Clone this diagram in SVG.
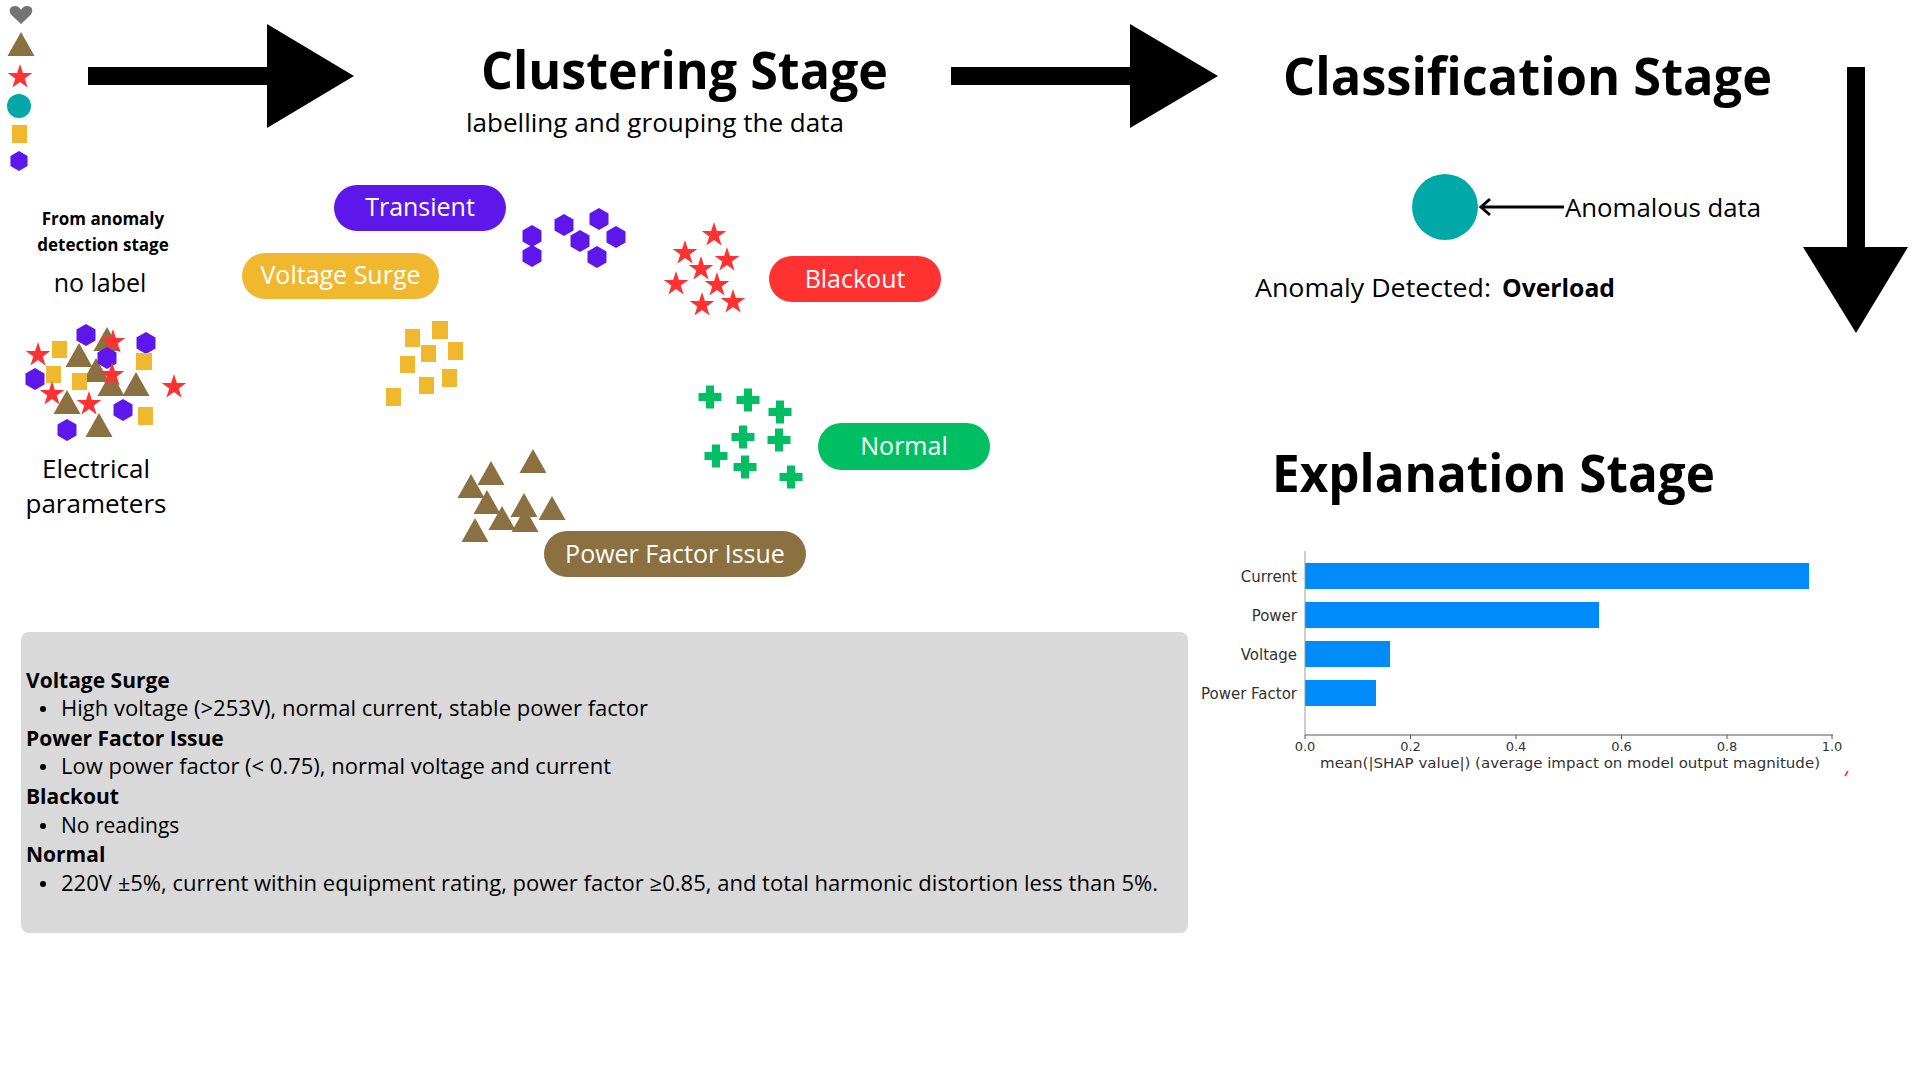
<svg xmlns="http://www.w3.org/2000/svg" xmlns:xlink="http://www.w3.org/1999/xlink" width="1920" height="1080" viewBox="0 0 1920 1080">
<style>
.h{font-family:"Open Sans","Liberation Sans",sans-serif;font-weight:700;fill:#000}
.t{font-family:"Open Sans","Liberation Sans",sans-serif;fill:#000}
.pl{font-family:"Open Sans","Liberation Sans",sans-serif;fill:#fff;font-size:25px;text-anchor:middle}
.bx{font-family:"Open Sans","Liberation Sans",sans-serif;font-size:21px;fill:#000}
.bb{font-weight:700}
.ch{font-family:"DejaVu Sans",sans-serif;fill:#333}
.hex{fill:#5E17EB}
.sq{fill:#EFB82E}
.tri{fill:#8B7042}
.star{fill:#FF3131}
.plus{fill:#00BF63}
</style>
<defs>
<path id="star" d="M0,-13 L2.92,-4.02 L12.36,-4.02 L4.72,1.53 L7.64,10.52 L0,4.97 L-7.64,10.52 L-4.72,1.53 L-12.36,-4.02 L-2.92,-4.02Z"/>
<path id="hex" d="M0,-11 L9.5,-5.5 L9.5,5.5 L0,11 L-9.5,5.5 L-9.5,-5.5Z"/>
<path id="tri" d="M0,0 L13.5,24 L-13.5,24Z"/>
<path id="plus" d="M-4,-11.5 h8 v7.5 h7.5 v8 h-7.5 v7.5 h-8 v-7.5 h-7.5 v-8 h7.5z"/>
</defs>
<rect width="1920" height="1080" fill="#fff"/>

<g id="legend">
<path d="M21,24 L12,15.5 C7.5,11 10,6 15,6 C18,6 20,8 21,10 C22,8 24,6 27,6 C32,6 34.5,11 30,15.5 Z" fill="#737373"/>
<use href="#tri" class="tri" transform="translate(21,32)"/>
<use href="#star" class="star" transform="translate(20,77)"/>
<circle cx="19" cy="106" r="12" fill="#00A9A8"/>
<rect x="12" y="125" width="15" height="18" class="sq"/>
<use href="#hex" class="hex" transform="translate(19,161) scale(0.9)"/>
</g>

<g id="input-node">
<text class="h" x="103" y="225" font-size="17" text-anchor="middle">From anomaly</text>
<text class="h" x="103" y="251" font-size="17" text-anchor="middle">detection stage</text>
<text class="t" x="100" y="292" font-size="25" text-anchor="middle">no label</text>
<g id="mixed-cluster">
<use href="#tri" class="tri" transform="translate(107,327)"/>
<use href="#hex" class="hex" transform="translate(86,335)"/>
<use href="#hex" class="hex" transform="translate(146,343)"/>
<rect x="52" y="341" width="15" height="17" class="sq"/>
<rect x="136" y="353" width="16" height="17" class="sq"/>
<use href="#tri" class="tri" transform="translate(79,343)"/>
<use href="#star" class="star" transform="translate(113,342)"/>
<use href="#star" class="star" transform="translate(38,355)"/>
<use href="#tri" class="tri" transform="translate(96,358)"/>
<use href="#hex" class="hex" transform="translate(107,358)"/>
<rect x="46" y="366" width="15" height="17" class="sq"/>
<rect x="72" y="373" width="15" height="17" class="sq"/>
<use href="#hex" class="hex" transform="translate(35,379)"/>
<use href="#tri" class="tri" transform="translate(111,372)"/>
<use href="#tri" class="tri" transform="translate(136,372)"/>
<use href="#star" class="star" transform="translate(112,375)"/>
<use href="#star" class="star" transform="translate(174,387)"/>
<use href="#tri" class="tri" transform="translate(67,390)"/>
<use href="#star" class="star" transform="translate(52,394)"/>
<use href="#star" class="star" transform="translate(89,404)"/>
<use href="#hex" class="hex" transform="translate(123,410)"/>
<rect x="138" y="407" width="15" height="18" class="sq"/>
<use href="#tri" class="tri" transform="translate(99,413)"/>
<use href="#hex" class="hex" transform="translate(67,430)"/>
</g>
<text class="t" x="96" y="478" font-size="26" text-anchor="middle">Electrical</text>
<text class="t" x="96" y="513" font-size="26" text-anchor="middle">parameters</text>
</g>

<g id="clustering-stage">
<text class="h" x="481" y="89" font-size="52" textLength="407" lengthAdjust="spacingAndGlyphs">Clustering Stage</text>
<text class="t" x="466" y="132" font-size="25" textLength="378" lengthAdjust="spacingAndGlyphs">labelling and grouping the data</text>
</g>

<g id="transient">
<rect x="334" y="185" width="172" height="46" rx="23" fill="#5E17EB"/>
<text class="pl" x="420" y="216">Transient</text>
<use href="#hex" class="hex" transform="translate(532,236)"/>
<use href="#hex" class="hex" transform="translate(532,256)"/>
<use href="#hex" class="hex" transform="translate(564,225)"/>
<use href="#hex" class="hex" transform="translate(599,219)"/>
<use href="#hex" class="hex" transform="translate(580,241)"/>
<use href="#hex" class="hex" transform="translate(616,237)"/>
<use href="#hex" class="hex" transform="translate(597,257)"/>
</g>

<g id="voltage-surge">
<rect x="242" y="253" width="197" height="46" rx="23" fill="#EFB82E"/>
<text class="pl" x="340.5" y="284">Voltage Surge</text>
<rect x="405" y="329" width="15" height="18" class="sq"/>
<rect x="432" y="321" width="16" height="18" class="sq"/>
<rect x="421" y="345" width="15" height="17" class="sq"/>
<rect x="448" y="342" width="15" height="18" class="sq"/>
<rect x="400" y="356" width="15" height="17" class="sq"/>
<rect x="442" y="369" width="15" height="18" class="sq"/>
<rect x="419" y="377" width="15" height="17" class="sq"/>
<rect x="386" y="388" width="15" height="18" class="sq"/>
</g>

<g id="blackout">
<rect x="769" y="256" width="172" height="46" rx="23" fill="#FF3131"/>
<text class="pl" x="855" y="288">Blackout</text>
<use href="#star" class="star" transform="translate(714,235)"/>
<use href="#star" class="star" transform="translate(685,253)"/>
<use href="#star" class="star" transform="translate(727,260)"/>
<use href="#star" class="star" transform="translate(701,269)"/>
<use href="#star" class="star" transform="translate(676,284)"/>
<use href="#star" class="star" transform="translate(717,285)"/>
<use href="#star" class="star" transform="translate(702,305)"/>
<use href="#star" class="star" transform="translate(733,302)"/>
</g>

<g id="normal">
<rect x="818" y="423" width="172" height="47" rx="23.5" fill="#00BF63"/>
<text class="pl" x="904" y="455">Normal</text>
<use href="#plus" class="plus" transform="translate(710,397)"/>
<use href="#plus" class="plus" transform="translate(748,400)"/>
<use href="#plus" class="plus" transform="translate(780,412)"/>
<use href="#plus" class="plus" transform="translate(743,437)"/>
<use href="#plus" class="plus" transform="translate(779,440)"/>
<use href="#plus" class="plus" transform="translate(716,456)"/>
<use href="#plus" class="plus" transform="translate(745,467)"/>
<use href="#plus" class="plus" transform="translate(791,477)"/>
</g>

<g id="power-factor-issue">
<rect x="544" y="531" width="262" height="46" rx="23" fill="#8B7042"/>
<text class="pl" x="675" y="563">Power Factor Issue</text>
<use href="#tri" class="tri" transform="translate(533,449)"/>
<use href="#tri" class="tri" transform="translate(491,461)"/>
<use href="#tri" class="tri" transform="translate(471,474)"/>
<use href="#tri" class="tri" transform="translate(487,490)"/>
<use href="#tri" class="tri" transform="translate(524,493)"/>
<use href="#tri" class="tri" transform="translate(552,496)"/>
<use href="#tri" class="tri" transform="translate(502,506)"/>
<use href="#tri" class="tri" transform="translate(525,508)"/>
<use href="#tri" class="tri" transform="translate(475,518)"/>
</g>

<g id="descriptions">
<rect x="21" y="632" width="1167" height="301" rx="8" fill="#D9D9D9"/>
<text class="bx bb" x="26" y="688">Voltage Surge</text>
<circle cx="43" cy="709" r="3"/>
<text class="bx" x="61" y="716" textLength="587" lengthAdjust="spacingAndGlyphs">High voltage (&gt;253V), normal current, stable power factor</text>
<text class="bx bb" x="26" y="746">Power Factor Issue</text>
<circle cx="43" cy="767" r="3"/>
<text class="bx" x="61" y="774" textLength="550" lengthAdjust="spacingAndGlyphs">Low power factor (&lt; 0.75), normal voltage and current</text>
<text class="bx bb" x="26" y="804">Blackout</text>
<circle cx="43" cy="826" r="3"/>
<text class="bx" x="61" y="833">No readings</text>
<text class="bx bb" x="26" y="862">Normal</text>
<circle cx="43" cy="884" r="3"/>
<text class="bx" x="61" y="891" textLength="1097" lengthAdjust="spacingAndGlyphs">220V ±5%, current within equipment rating, power factor ≥0.85, and total harmonic distortion less than 5%.</text>
</g>

<g id="classification-stage">
<text class="h" x="1283" y="95" font-size="52" textLength="489" lengthAdjust="spacingAndGlyphs">Classification Stage</text>
<circle cx="1445" cy="207" r="33" fill="#00A9A8"/>
<text class="t" x="1565" y="217" font-size="25" textLength="196" lengthAdjust="spacingAndGlyphs">Anomalous data</text>
<text class="t" x="1255" y="297" font-size="25" textLength="236" lengthAdjust="spacingAndGlyphs">Anomaly Detected:</text>
<text class="h" x="1502" y="297" font-size="25" textLength="113" lengthAdjust="spacingAndGlyphs">Overload</text>
</g>

<g id="explanation-stage">
<text class="h" x="1272" y="492" font-size="52" textLength="443" lengthAdjust="spacingAndGlyphs">Explanation Stage</text>
<g id="shap-chart">
<rect x="1305" y="563" width="504" height="26" fill="#008BFB"/>
<rect x="1305" y="602" width="294" height="26" fill="#008BFB"/>
<rect x="1305" y="641" width="85" height="26" fill="#008BFB"/>
<rect x="1305" y="680" width="71" height="26" fill="#008BFB"/>
<line x1="1305" y1="551" x2="1305" y2="735" stroke="#999" stroke-width="1"/>
<line x1="1305" y1="735" x2="1833" y2="735" stroke="#555" stroke-width="1"/>
<g stroke="#555" stroke-width="1">
<line x1="1305" y1="735" x2="1305" y2="739"/>
<line x1="1410.5" y1="735" x2="1410.5" y2="739"/>
<line x1="1516" y1="735" x2="1516" y2="739"/>
<line x1="1621.5" y1="735" x2="1621.5" y2="739"/>
<line x1="1727" y1="735" x2="1727" y2="739"/>
<line x1="1832" y1="735" x2="1832" y2="739"/>
</g>
<g class="ch" font-size="15" text-anchor="end">
<text x="1297" y="582">Current</text>
<text x="1297" y="621">Power</text>
<text x="1297" y="660">Voltage</text>
<text x="1297" y="699">Power Factor</text>
</g>
<g class="ch" font-size="13" text-anchor="middle">
<text x="1305" y="751">0.0</text>
<text x="1410.5" y="751">0.2</text>
<text x="1516" y="751">0.4</text>
<text x="1621.5" y="751">0.6</text>
<text x="1727" y="751">0.8</text>
<text x="1832" y="751">1.0</text>
</g>
<text class="ch" x="1320" y="768" font-size="14.5" textLength="500" lengthAdjust="spacingAndGlyphs" fill="#222">mean(|SHAP value|) (average impact on model output magnitude)</text>
<path d="M1845,776 L1848,771" stroke="#FF3131" stroke-width="1.5"/>
</g>
</g>

<g id="connectors">
<polygon points="88,67 267,67 267,24 354,76 267,128 267,85 88,85" fill="#000"/>
<polygon points="951,67 1130,67 1130,24 1218,76 1130,128 1130,85 951,85" fill="#000"/>
<polygon points="1847,67 1865,67 1865,247 1908,247 1856,333 1803,247 1847,247" fill="#000"/>
<line x1="1564" y1="207" x2="1482" y2="207" stroke="#000" stroke-width="3"/>
<path d="M1490,199 L1481,207 L1490,215" fill="none" stroke="#000" stroke-width="3"/>
</g>
</svg>
